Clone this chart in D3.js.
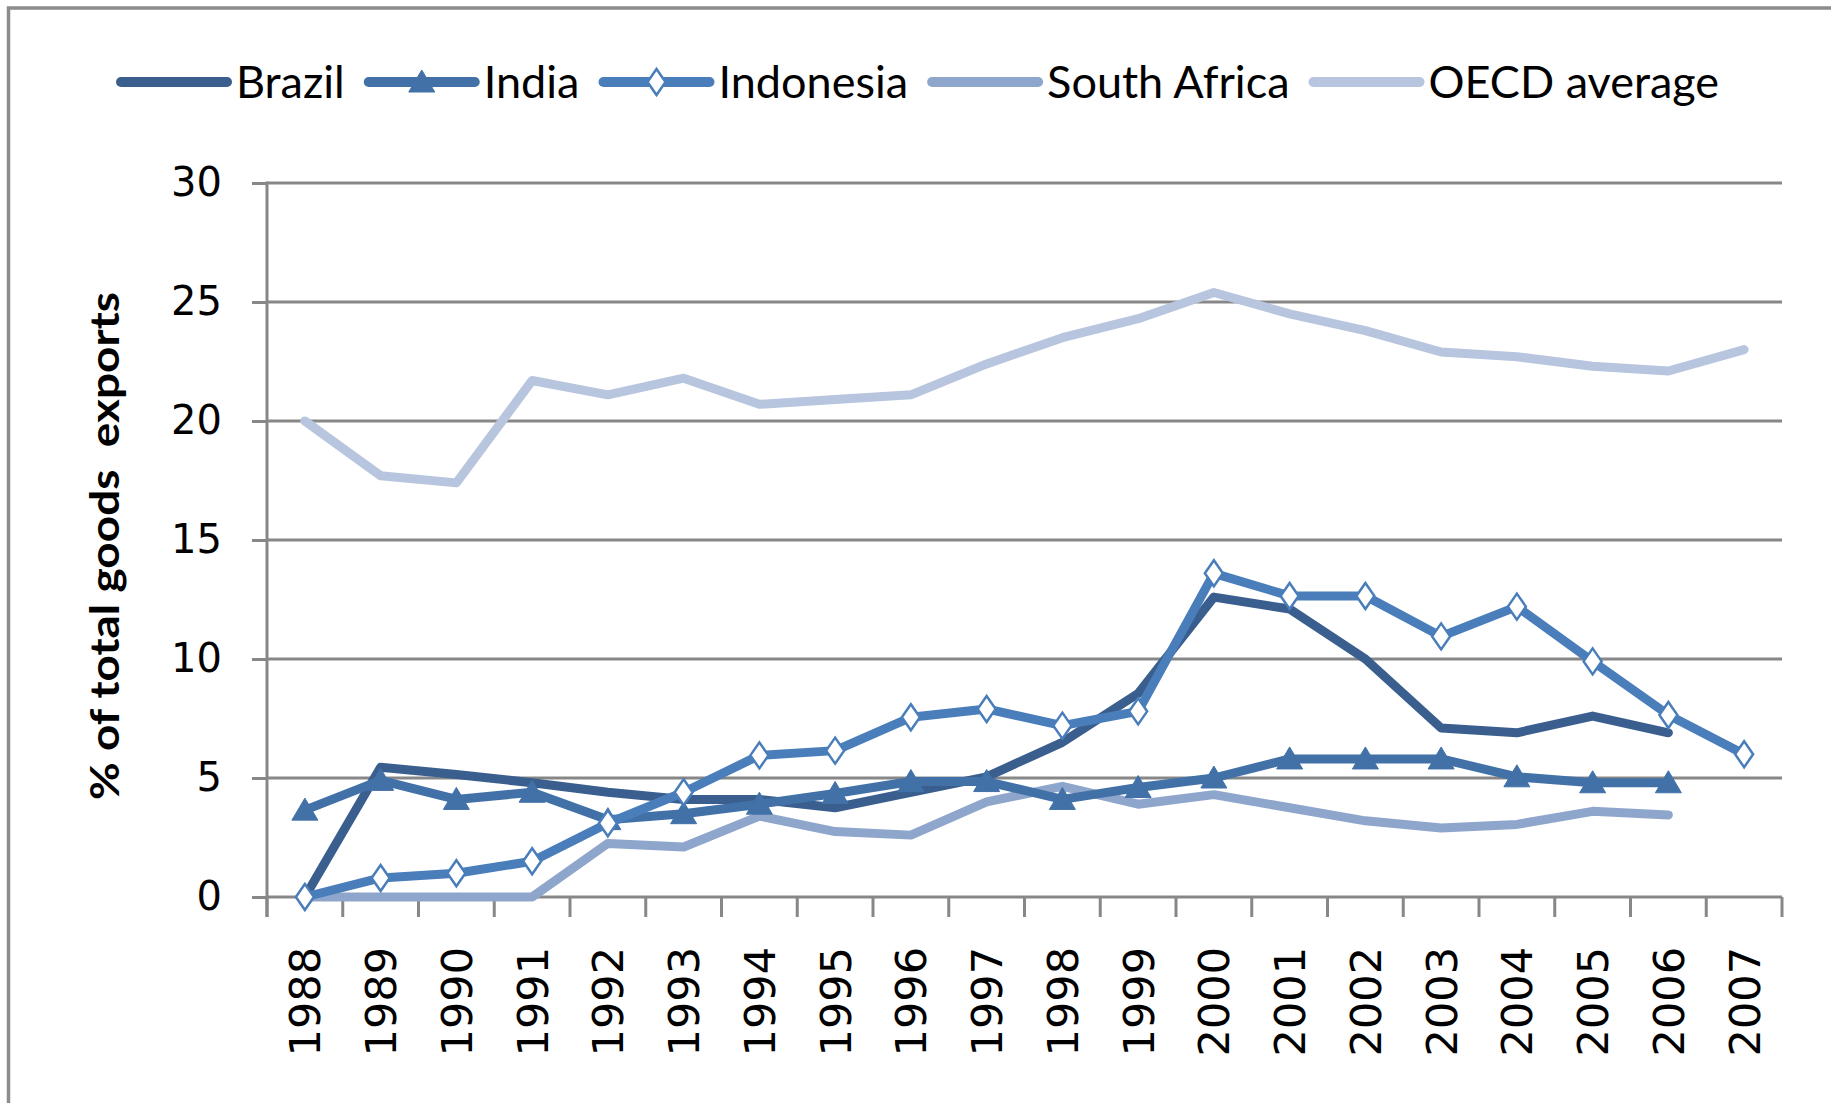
<!DOCTYPE html>
<html>
<head>
<meta charset="utf-8">
<script src="https://cdn.jsdelivr.net/npm/d3@7"></script>
<style>
  body { margin: 0; background: #fff; }
</style>
</head>
<body>
<div id="chart"></div>
<script>
const years = [1988, 1989, 1990, 1991, 1992, 1993, 1994, 1995, 1996, 1997,
               1998, 1999, 2000, 2001, 2002, 2003, 2004, 2005, 2006, 2007];

const brazil = [0, 5.45, 5.15, 4.8, 4.4, 4.1, 4.1, 3.75, 4.4, 5.05,
                6.5, 8.55, 12.6, 12.1, 10.0, 7.1, 6.9, 7.6, 6.9, null];
const india = [3.65, 4.9, 4.1, 4.4, 3.25, 3.5, 3.9, 4.35, 4.85, 4.85,
               4.1, 4.6, 5.0, 5.8, 5.8, 5.8, 5.05, 4.8, 4.8, null];
const indonesia = [0, 0.8, 1.0, 1.5, 3.1, 4.4, 5.95, 6.15, 7.55, 7.9,
                   7.2, 7.8, 13.6, 12.65, 12.65, 10.95, 12.2, 9.9, 7.65, 6.0];
const southAfrica = [0, 0, 0, 0, 2.25, 2.1, 3.4, 2.75, 2.6, 4.0,
                     4.65, 3.9, 4.3, 3.75, 3.2, 2.9, 3.05, 3.6, 3.45, null];
const oecd = [20.0, 17.7, 17.4, 21.7, 21.1, 21.8, 20.7, 20.9, 21.1, 22.4,
              23.5, 24.3, 25.4, 24.5, 23.8, 22.9, 22.7, 22.3, 22.1, 23.0];

const yTicks = [0, 5, 10, 15, 20, 25, 30];

const series = [
  {name: "Brazil", values: brazil, color: "#3a5f8f", marker: null},
  {name: "India", values: india, color: "#4271a8", marker: "triangle"},
  {name: "Indonesia", values: indonesia, color: "#4a7ebb", marker: "diamond"},
  {name: "South Africa", values: southAfrica, color: "#8fa6cc", marker: null},
  {name: "OECD average", values: oecd, color: "#b8c5de", marker: null}
];

const width = 1831, height = 1103;
const margins = {top: 183, right: 49, bottom: 206, left: 267};
const gridColor = "#878787";

const svg = d3.select("#chart")
  .append("svg")
  .attr("width", width)
  .attr("height", height);

svg.append("rect")
  .attr("width", width)
  .attr("height", height)
  .attr("fill", "#fff");

// chart frame (right and bottom edges fall outside the picture)
svg.append("rect")
  .attr("x", 8.5)
  .attr("y", 8)
  .attr("width", 1900)
  .attr("height", 1300)
  .attr("fill", "none")
  .attr("stroke", "#8c8c8c")
  .attr("stroke-width", 3.5);

const xScale = d3.scaleBand()
  .domain(years)
  .range([margins.left, width - margins.right])
  .padding(0);

const xPos = y => xScale(y) + xScale.bandwidth() / 2;

const yScale = d3.scaleLinear()
  .domain([0, 30])
  .range([height - margins.bottom, margins.top]);

// gridlines + y axis
const yAxis = d3.axisLeft(yScale)
  .tickValues(yTicks)
  .tickSize(15)
  .tickPadding(30)
  .tickFormat(d3.format("d"));

const yGroup = svg.append("g")
  .attr("transform", `translate(${margins.left},0)`)
  .call(yAxis)
  .call(g => g.select(".domain").remove());

yGroup.selectAll(".tick line")
  .attr("stroke", gridColor)
  .attr("stroke-width", 3);

yGroup.selectAll(".tick text")
  .attr("fill", "#000")
  .style("font-family", "DejaVu Sans")
  .style("font-size", "40px");

svg.append("g")
  .selectAll("line")
  .data(yTicks)
  .join("line")
    .attr("x1", margins.left)
    .attr("x2", width - margins.right)
    .attr("y1", d => yScale(d))
    .attr("y2", d => yScale(d))
    .attr("stroke", gridColor)
    .attr("stroke-width", 3);

// x axis ticks at category boundaries
const boundaries = years.map(y => xScale(y)).concat([width - margins.right]);
svg.append("g")
  .selectAll("line")
  .data(boundaries)
  .join("line")
    .attr("x1", d => d)
    .attr("x2", d => d)
    .attr("y1", yScale(0))
    .attr("y2", yScale(0) + 20)
    .attr("stroke", gridColor)
    .attr("stroke-width", 3);

svg.append("line")
  .attr("x1", margins.left)
  .attr("x2", margins.left)
  .attr("y1", yScale(30) - 1.5)
  .attr("y2", yScale(0) + 20)
  .attr("stroke", gridColor)
  .attr("stroke-width", 3);

svg.append("g")
  .selectAll("text")
  .data(years)
  .join("text")
    .attr("transform", d => `translate(${xPos(d)},${yScale(0) + 50}) rotate(-90)`)
    .attr("text-anchor", "end")
    .attr("dy", "0.36em")
    .style("font-family", "DejaVu Sans")
    .style("font-size", "43px")
    .text(d => d);

svg.append("text")
  .attr("transform", `translate(105,546) rotate(-90)`)
  .attr("text-anchor", "middle")
  .attr("dy", "0.35em")
  .attr("textLength", 508)
  .attr("lengthAdjust", "spacingAndGlyphs")
  .style("font-family", "Lato")
  .style("font-weight", "bold")
  .style("font-size", "41px")
  .style("white-space", "pre")
  .text("% of total goods  exports");

// lines
const line = d3.line()
  .defined(d => d.v != null)
  .x(d => xPos(d.year))
  .y(d => yScale(d.v));

const drawOrder = [4, 3, 0, 1, 2];
drawOrder.forEach(i => {
  const s = series[i];
  const pts = years.map((y, j) => ({year: y, v: s.values[j]}));
  svg.append("path")
    .attr("d", line(pts))
    .attr("fill", "none")
    .attr("stroke", s.color)
    .attr("stroke-width", 9)
    .attr("stroke-linejoin", "round")
    .attr("stroke-linecap", "round");

  if (s.marker) {
    svg.append("g")
      .selectAll("path")
      .data(pts.filter(d => d.v != null))
      .join("path")
        .attr("transform", d => `translate(${xPos(d.year)},${yScale(d.v)})`)
        .attr("d", markerPath(s.marker))
        .attr("fill", s.marker == "diamond" ? "#fff" : s.color)
        .attr("stroke", s.color)
        .attr("stroke-width", s.marker == "diamond" ? 2.5 : 1);
  }
});

function markerPath(kind) {
  if (kind == "triangle") return "M0,-12 L13,10 L-13,10 Z";
  return "M0,-13 L9,0 L0,13 L-9,0 Z";
}

// legend
const legend = svg.append("g");
let lx = 121;
const ly = 82;
series.forEach(s => {
  legend.append("line")
    .attr("x1", lx)
    .attr("x2", lx + 106)
    .attr("y1", ly)
    .attr("y2", ly)
    .attr("stroke", s.color)
    .attr("stroke-width", 10)
    .attr("stroke-linecap", "round");
  if (s.marker) {
    legend.append("path")
      .attr("transform", `translate(${lx + 53},${ly})`)
      .attr("d", markerPath(s.marker))
      .attr("fill", s.marker == "diamond" ? "#fff" : s.color)
      .attr("stroke", s.color)
      .attr("stroke-width", s.marker == "diamond" ? 2.5 : 1);
  }
  const t = legend.append("text")
    .attr("x", lx + 115)
    .attr("y", ly)
    .attr("dy", "0.35em")
    .style("font-family", "Lato")
    .style("font-size", "45px")
    .text(s.name);
  lx += 115 + t.node().getComputedTextLength() + 24;
});
</script>
</body>
</html>
